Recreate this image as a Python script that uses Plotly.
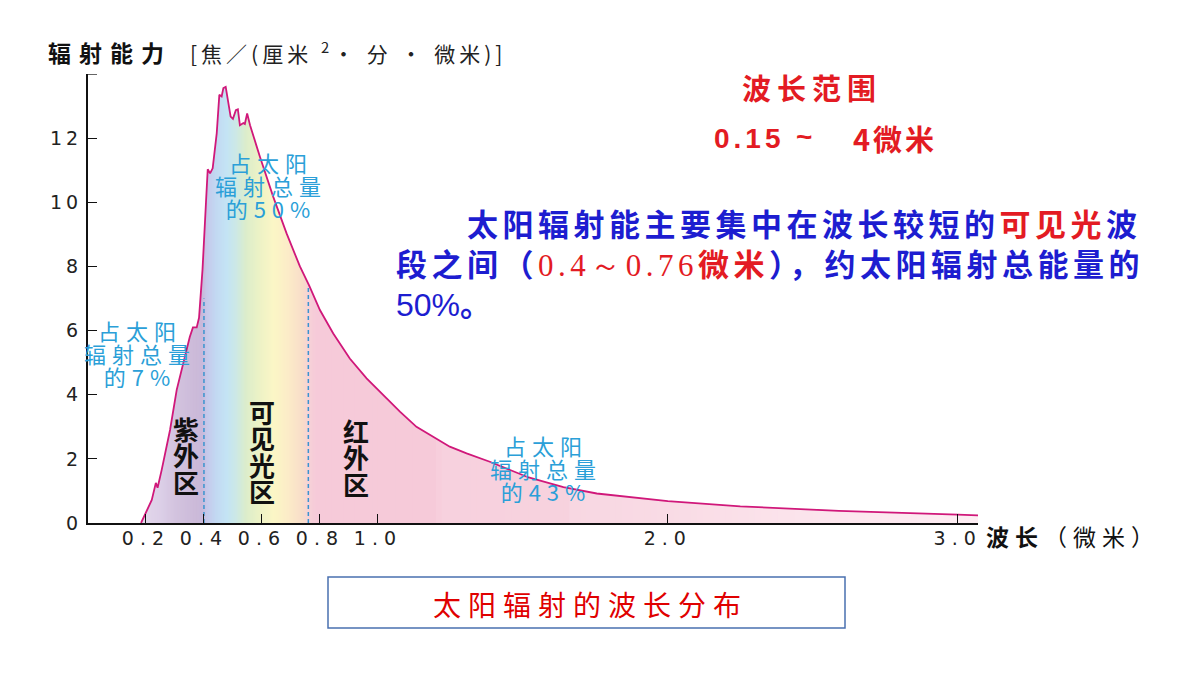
import numpy as np
import plotly.graph_objects as go

# ---------------- data ----------------
wavelength = [0.183, 0.202, 0.22, 0.234, 0.240, 0.254, 0.283, 0.306, 0.328, 0.351,
              0.362, 0.375, 0.383, 0.395, 0.407, 0.413, 0.421, 0.430, 0.444, 0.453,
              0.461, 0.467, 0.475, 0.480, 0.492, 0.500, 0.510, 0.517, 0.524, 0.536,
              0.541, 0.549, 0.559, 0.593, 0.639, 0.685, 0.731, 0.763, 0.800, 0.846,
              0.903, 0.961, 1.018, 1.076, 1.133, 1.191, 1.248, 1.306, 1.386, 1.520,
              1.640, 1.755, 1.900, 2.000, 2.250, 2.590, 3.000, 3.070]
radiation = [0.0, 0.40, 0.72, 1.25, 1.10, 1.65, 2.90, 4.15, 5.00, 5.80,
             6.10, 6.10, 6.40, 7.90, 10.00, 11.03, 10.90, 11.06, 12.15, 13.35,
             13.30, 13.56, 13.60, 13.29, 12.67, 12.60, 12.87, 12.90, 12.40, 12.47,
             12.44, 12.77, 12.40, 11.42, 10.17, 9.03, 8.00, 7.40, 6.64, 5.91,
             5.13, 4.51, 3.99, 3.47, 3.00, 2.69, 2.38, 2.17, 1.91, 1.42,
             1.12, 0.92, 0.77, 0.68, 0.52, 0.38, 0.26, 0.24]

y_ticks = [0, 2, 4, 6, 8, 10, 12]
y_tick_labels = ["0", "2", "4", "6", "8", "10", "12"]
x_ticks = [0.2, 0.4, 0.6, 0.8, 1.0, 2.0, 3.0]
x_tick_labels = ["0.2", "0.4", "0.6", "0.8", "1.0", "2.0", "3.0"]

boundary_wl = [0.4, 0.76]
boundary_top = [7.0, 7.40]

# ---------------- layout geometry ----------------
W, H = 1200, 675
L, R, T, B = 88, 978, 74, 523
X_MAX, Y_MAX = 3.07, 14

CJK = "Noto Sans CJK SC"
RED = "#e31b23"
BLUE = "#1d1dd0"
CYAN = "#2b9fd8"


def px(x):
    return (x - L) / (R - L)


def py(y):
    return (B - y) / (B - T)


# colour stops for the spectrum-like fill (style only)
color_stops = [
    (0.18, "#e4d9ec"), (0.25, "#dccfe7"), (0.30, "#d3c4df"), (0.37, "#ccbad9"),
    (0.395, "#c9b9da"), (0.41, "#c6c8ea"), (0.44, "#c2d8f2"), (0.48, "#c4e4f4"),
    (0.51, "#cce8e6"), (0.545, "#dcedcb"), (0.59, "#ecf2c6"), (0.64, "#fbf6c6"),
    (0.69, "#fcecc8"), (0.74, "#f8ddc9"), (0.765, "#f6d0d8"), (0.79, "#f6cad9"),
    (1.205, "#f6cad9"), (1.215, "#f7d1de"), (1.655, "#f7d2de"), (1.665, "#f8d7e2"),
    (2.0, "#f9dbe5"), (2.4, "#fbe3eb"), (3.07, "#fdeef3"),
]
stop_x = np.array([s[0] for s in color_stops])
stop_rgb = np.array([[int(s[1][i:i + 2], 16) for i in (1, 3, 5)] for s in color_stops], dtype=float)


def color_at(x):
    c = [np.interp(x, stop_x, stop_rgb[:, k]) for k in range(3)]
    return "rgb(%d,%d,%d)" % tuple(int(round(v)) for v in c)


fig = go.Figure()

wl = np.array(wavelength)
rad = np.array(radiation)
edges = np.concatenate([np.arange(wl[0], 0.8, 0.005), np.arange(0.8, wl[-1], 0.02), [wl[-1]]])
for a, b in zip(edges[:-1], edges[1:]):
    b2 = min(b + 0.003, wl[-1])
    inner = wl[(wl > a) & (wl < b2)]
    xs = np.concatenate([[a], inner, [b2]])
    ys = np.interp(xs, wl, rad)
    col = color_at((a + b) / 2)
    fig.add_trace(go.Scatter(x=xs, y=ys, mode="lines", fill="tozeroy",
                             line=dict(width=0, color=col), fillcolor=col,
                             hoverinfo="skip", showlegend=False))

# dashed boundaries
for bx, bt in zip(boundary_wl, boundary_top):
    fig.add_trace(go.Scatter(x=[bx, bx], y=[0, bt], mode="lines",
                             line=dict(color="#3a94d0", width=1.5, dash="4px,3px"),
                             hoverinfo="skip", showlegend=False))

# main curve
fig.add_trace(go.Scatter(x=wavelength, y=radiation, mode="lines",
                         line=dict(color="#d0187a", width=1.8),
                         hoverinfo="skip", showlegend=False))


def ls_text(text, ls, size=None):
    st = f"letter-spacing:{ls}px"
    if size:
        st += f";font-size:{size}px"
    return f'<span style="{st}">{text}</span>'


fig.update_xaxes(range=[0, X_MAX], showline=True, linecolor="#111", linewidth=2,
                 ticks="inside", ticklen=9, tickwidth=1.3, tickcolor="#111",
                 tickvals=x_ticks, tickangle=0,
                 ticktext=[ls_text(t, 6) for t in x_tick_labels],
                 tickfont=dict(family="DejaVu Sans", size=19, color="#222"),
                 ticklabelstandoff=-3,
                 showgrid=False, zeroline=False, fixedrange=True, automargin=False)
fig.update_yaxes(range=[0, Y_MAX], showline=True, linecolor="#111", linewidth=2,
                 ticks="inside", ticklen=9, tickwidth=1.3, tickcolor="#111",
                 tickvals=y_ticks, ticktext=[ls_text(t, 4) for t in y_tick_labels],
                 tickfont=dict(family="DejaVu Sans", size=19, color="#222"),
                 showgrid=False, zeroline=False, fixedrange=True, automargin=False)

# small cap tick at the top of the y axis
fig.add_shape(type="line", xref="paper", yref="y", x0=0, x1=px(97), y0=Y_MAX, y1=Y_MAX,
              line=dict(color="#111", width=1.3))


def note(text, x, y, size, color, family=CJK, xanchor="center", ls=0, align="center"):
    if ls:
        text = ls_text(text, ls)
    fig.add_annotation(text=text, x=px(x), y=py(y), xref="paper", yref="paper",
                       xanchor=xanchor, yanchor="middle", showarrow=False, align=align,
                       font=dict(family=family, size=size, color=color))


def stacked(lines, x, y_center, spacing, glyph_size, color, ls=0, bold=False):
    """Multi-line label; base font size sets the line pitch, spans set glyph size."""
    base = spacing / 1.3
    parts = []
    for t in lines:
        if bold:
            t = f"<b>{t}</b>"
        parts.append(ls_text(t, ls, glyph_size))
    note("<br>".join(parts), x, y_center, base, color)


# y-axis title
note("<b>辐射能力</b>", 46, 52, 23, "#111", xanchor="left", ls=8)
note("[焦／(厘米 <sup>2</sup>· 分 · 微米)]", 188, 52, 21, "#222", xanchor="left", ls=4)

# x-axis title
note("<b>波长</b>（微米）", 984, 536, 23, "#111", xanchor="left", ls=6)

# wavelength range
note("<b>波长范围</b>", 812, 87, 29, RED, ls=6)
note("<b>0.15</b>", 712, 138, 28, RED, family="Liberation Sans", xanchor="left", ls=4)
note("<b>~</b>", 804, 137, 28, RED, family="Liberation Sans")
note("<b>4微米</b>", 851, 138, 29, RED, xanchor="left", ls=3)

# blue paragraph (one text block, first line indented)
serif_red = f'<span style="font-family:Liberation Serif;font-weight:normal;fill:{RED}">'
line1 = (f'<b><span style="fill:{BLUE}">　　太阳辐射能主要集中在波长较短的</span>'
         f'<span style="fill:{RED}">可见光</span><span style="fill:{BLUE}">波</span></b>')
line2 = (f'<b><span style="fill:{BLUE}">段之间（</span></b>'
         f'{serif_red}0.4～0.76</span>'
         f'<b><span style="fill:{RED}">微米</span>'
         f'<span style="fill:{BLUE}">），约太阳辐射总能量的</span></b>')
line3 = (f"<span style=\"font-family:'Liberation Sans Narrow','Liberation Sans',sans-serif;"
         f"font-size:32px;letter-spacing:0px;fill:{BLUE}\">50%</span>"
         f'<b><span style="fill:{BLUE}">。</span></b>')
para = "<br>".join(ls_text(t, 4.5, 31) for t in [line1, line2, line3])
note(para, 394, 262, 40 / 1.3, BLUE, xanchor="left", align="left")

# share annotations (cyan)
shares = [(271, 185, "的50%"), (140, 353, "的7%"), (546, 467.5, "的43%")]
for cx, cy, last in shares:
    stacked(["占太阳", "辐射总量", last], cx, cy, 23, 22, CYAN, ls=6)

# region labels
regions = [(186, 455, ["紫", "外", "区"]),
           (262, 450.5, ["可", "见", "光", "区"]),
           (356, 457, ["红", "外", "区"])]
for cx, cy, chars in regions:
    stacked(chars, cx, cy, 26.3, 26, "#111", bold=True)

# caption box
fig.add_shape(type="rect", xref="paper", yref="paper",
              x0=px(328), x1=px(845), y0=py(628), y1=py(577),
              line=dict(color="#4a70b0", width=1.5), fillcolor="white")
note("太阳辐射的波长分布", 590, 604, 28, "#e00000", ls=7)

fig.update_layout(width=W, height=H, autosize=False,
                  margin=dict(l=L, r=W - R, t=T, b=H - B, pad=0),
                  paper_bgcolor="white", plot_bgcolor="rgba(0,0,0,0)",
                  showlegend=False)

fig.write_html("out.html", config={"displayModeBar": False})
